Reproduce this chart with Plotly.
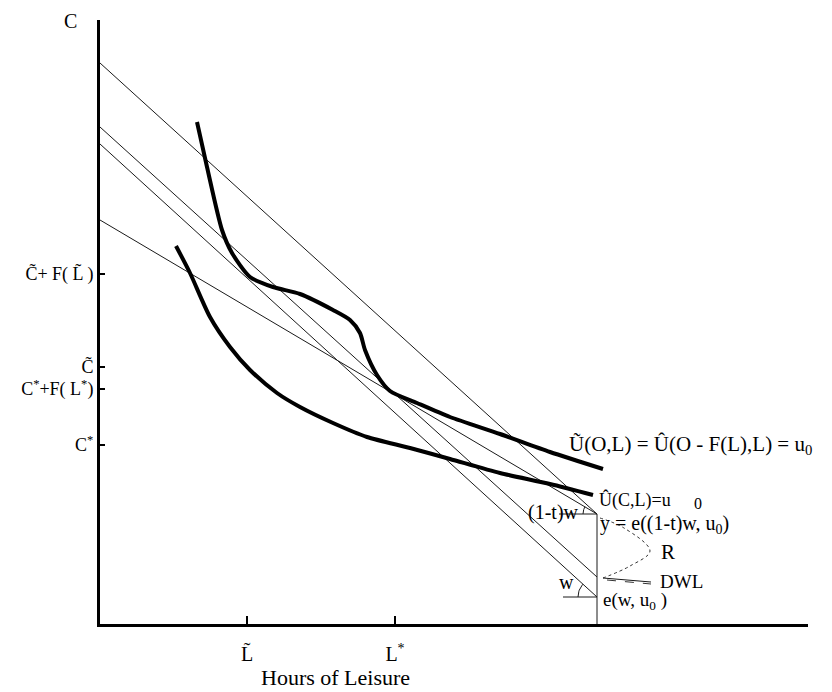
import math
import plotly.graph_objects as go

# ---- data (chart units: leisure on x, consumption on y) ----
line_x = [0, 497]
budget_top_y = [561, 110]
budget_mid_y = [497, 47]
budget_low_y = [480, 27]
budget_flat_y = [404, 110]

upper_curve_x = [97, 107, 122, 132, 150, 173, 200, 233, 250, 260, 265, 277, 290, 317, 350, 400, 450, 503]
upper_curve_y = [502, 457, 394, 371, 347, 337, 330, 314, 304, 291, 274, 249, 233, 221, 207, 190, 172, 155]

lower_curve_x = [76, 90, 110, 130, 150, 177, 200, 233, 267, 310, 350, 400, 450, 493]
lower_curve_y = [378, 351, 307, 277, 254, 231, 217, 201, 187, 176, 165, 151, 140, 129]

vert_x = [497, 497]
vert_y = [0, 110]

tax_seg_x = [459, 497]
tax_seg_y = [110, 110]
wage_seg_x = [463, 497]
wage_seg_y = [27, 27]

brace_x = [500, 524, 550, 530, 503]
brace_y = [106, 96, 73, 58, 46]

y_tick_vals = [350, 257, 235, 179]
y_tick_text = ["C\u0303+ F( L\u0303 )", "C\u0303", "C<sup>*</sup>+F( L<sup>*</sup>)", "C<sup>*</sup>"]
x_tick_vals = [147, 295]
x_tick_text = ["L\u0303", "L<sup>*</sup>"]

X_RANGE = [0, 708]
Y_RANGE = [0, 604]

FONT = "Liberation Serif"

fig = go.Figure()

thin = dict(color="#1a1a1a", width=1)
for ys in [budget_top_y, budget_mid_y, budget_low_y, budget_flat_y]:
    fig.add_trace(go.Scatter(x=line_x, y=ys, mode="lines", line=thin, hoverinfo="skip"))

thick = dict(color="black", width=4, shape="spline", smoothing=0.7)
fig.add_trace(go.Scatter(x=upper_curve_x, y=upper_curve_y, mode="lines", line=thick, hoverinfo="skip"))
fig.add_trace(go.Scatter(x=lower_curve_x, y=lower_curve_y, mode="lines", line=thick, hoverinfo="skip"))

fig.add_trace(go.Scatter(x=vert_x, y=vert_y, mode="lines", line=thin, hoverinfo="skip"))
fig.add_trace(go.Scatter(x=tax_seg_x, y=tax_seg_y, mode="lines", line=thin, hoverinfo="skip"))
fig.add_trace(go.Scatter(x=wage_seg_x, y=wage_seg_y, mode="lines", line=thin, hoverinfo="skip"))


def arc(cx, cy, r, slope):
    a0 = math.pi
    a1 = math.pi - math.atan(slope)
    n = 12
    xs = [cx + r * math.cos(a0 + (a1 - a0) * i / n) for i in range(n + 1)]
    ys = [cy + r * math.sin(a0 + (a1 - a0) * i / n) for i in range(n + 1)]
    return xs, ys


s_flat = (budget_flat_y[0] - budget_flat_y[1]) / (line_x[1] - line_x[0])
s_low = (budget_low_y[0] - budget_low_y[1]) / (line_x[1] - line_x[0])
ax1, ay1 = arc(line_x[1], budget_flat_y[1], 14, s_flat)
ax2, ay2 = arc(line_x[1], budget_low_y[1], 19, s_low)
fig.add_trace(go.Scatter(x=ax1, y=ay1, mode="lines", line=thin, hoverinfo="skip"))
fig.add_trace(go.Scatter(x=ax2, y=ay2, mode="lines", line=thin, hoverinfo="skip"))

fig.add_trace(go.Scatter(x=brace_x, y=brace_y, mode="lines",
                         line=dict(color="#333", width=1, dash="dot", shape="spline"), hoverinfo="skip"))
fig.add_trace(go.Scatter(x=[503, 551], y=[46, 42], mode="lines", line=thin, hoverinfo="skip"))
fig.add_trace(go.Scatter(x=[507, 551], y=[44, 40], mode="lines",
                         line=dict(color="#333", width=1, dash="dash"), hoverinfo="skip"))

ann = []


def txt(x, y, t, size=20, xanchor="left", ref="data"):
    if ref == "data":
        d = dict(x=x, y=y, xref="x", yref="y")
    else:
        d = dict(x=(x - X_RANGE[0]) / (X_RANGE[1] - X_RANGE[0]),
                 y=(y - Y_RANGE[0]) / (Y_RANGE[1] - Y_RANGE[0]),
                 xref="paper", yref="paper")
    d.update(text=t, showarrow=False, xanchor=xanchor, yanchor="middle",
             font=dict(family=FONT, size=size, color="black"))
    ann.append(d)


txt(467, 179, "U\u0303(O,L) = U\u0302(O - F(L),L) = u<sub>0</sub>", 21)
txt(497, 124, "U\u0302(C,L)=u", 18)
txt(598, 121, "0", 16, "center")
txt(481, 112, "(1-t)w", 20, "right")
txt(498, 100, "y = e((1-t)w, u<sub>0</sub>)", 20)
txt(559, 72, "R", 21)
txt(558, 43, "DWL", 19)
txt(476, 42, "w", 20, "right")
txt(501, 23, "e(w, u<sub>0</sub> )", 19)
txt(-30, 603, "C", 20, "center", ref="paper")
txt(235, -54, "Hours of Leisure", 22, "center", ref="paper")

fig.update_layout(
    width=824, height=684,
    margin=dict(l=92, r=24, t=12, b=68),
    paper_bgcolor="white", plot_bgcolor="white",
    showlegend=False,
    annotations=ann,
    font=dict(family=FONT, size=20, color="black"),
    xaxis=dict(range=X_RANGE, showgrid=False, zeroline=False, showline=True,
               linecolor="black", linewidth=3, ticks="inside", ticklen=8,
               tickwidth=2, tickcolor="black", tickvals=x_tick_vals,
               ticktext=x_tick_text, ticklabelstandoff=10,
               tickfont=dict(family=FONT, size=20, color="black"), fixedrange=True),
    yaxis=dict(range=Y_RANGE, showgrid=False, zeroline=False, showline=True,
               linecolor="black", linewidth=3, ticks="inside", ticklen=5,
               tickwidth=2, tickcolor="black", tickvals=y_tick_vals,
               ticktext=y_tick_text, ticklabelstandoff=0,
               tickfont=dict(family=FONT, size=18, color="black"), fixedrange=True),
    hovermode=False,
)

fig.write_html("out.html", config={"displayModeBar": False})
